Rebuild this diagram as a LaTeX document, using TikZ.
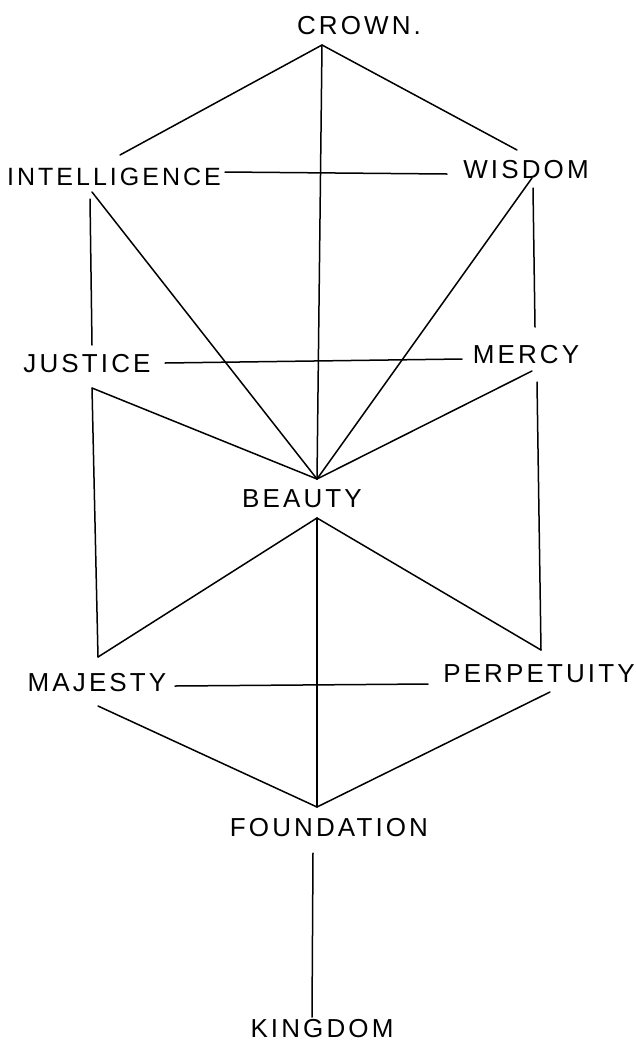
\documentclass[tikz,border=0pt]{standalone}
\usepackage{fontspec}
\setmainfont{Liberation Sans}[LetterSpace=12]
\begin{document}
\begin{tikzpicture}[x=1pt,y=-1pt,line width=1.5pt,line cap=round,
  lbl/.style={inner sep=0pt,font=\fontsize{26}{30}\selectfont,text height=19pt,text depth=0pt}]
 \useasboundingbox (0,0) rectangle (635,1042);
 % names
 \node[lbl] (crown) at (359,25) {CROWN.};
 \node[lbl,font=\fontsize{25}{30}\selectfont] (intel) at (114,176) {INTELLIGENCE};  \node[lbl] (wisdom) at (526,169) {WISDOM};
 \node[lbl] (justice) at (87,363) {JUSTICE};      \node[lbl] (mercy) at (526,354) {MERCY};
 \node[lbl] (beauty) at (302,498) {BEAUTY};
 \node[lbl] (majesty) at (97,682) {MAJESTY};      \node[lbl] (perp) at (539,673) {PERPETUITY};
 \node[lbl] (found) at (329,827) {FOUNDATION};
 \node[lbl] (kingdom) at (322,1028) {KINGDOM};
 % corners
 \coordinate (top) at (322,45); \coordinate (bt) at (317,479); \coordinate (bb) at (317,518); \coordinate (ft) at (317,807);
 \coordinate (cl) at (120,155); \coordinate (cr) at (517,150);
 \coordinate (ih) at (225,172); \coordinate (wh) at (447,174);
 \coordinate (id) at (92,192);  \coordinate (iv) at (90,199);  \coordinate (jt) at (92,345);
 \coordinate (wd) at (532,178); \coordinate (wv) at (533,188); \coordinate (mt) at (535,327);
 \coordinate (jh) at (165,363); \coordinate (mh) at (462,359);
 \coordinate (jd) at (92,388);  \coordinate (jl) at (98,657);
 \coordinate (md) at (532,371); \coordinate (mv) at (537,382); \coordinate (ml) at (541,650);
 \coordinate (ah) at (175,686); \coordinate (ph) at (428,684);
 \coordinate (ad) at (98,706);  \coordinate (pd) at (550,692);
 \coordinate (fb) at (313,853); \coordinate (kt) at (312,1017);
 % lines
 \foreach \a/\b in {top/cl,top/cr,top/bt,ih/wh,id/bt,iv/jt,wd/bt,wv/mt,jh/mh,jd/bt,jd/jl,md/bt,mv/ml,
   bb/jl,bb/ml,bb/ft,ah/ph,ad/ft,pd/ft,fb/kt}{\draw (\a) -- (\b);}
\end{tikzpicture}
\end{document}
